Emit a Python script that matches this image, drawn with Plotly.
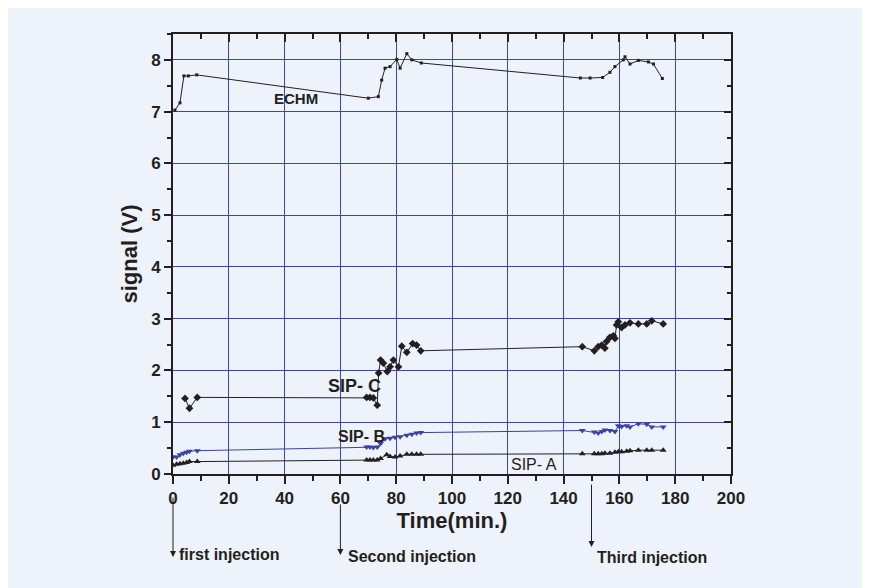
import plotly.graph_objects as go

# ---- data ----
echm_t = [0.7, 2.5, 3.9, 5.5, 8.5, 70, 73.6, 74.8, 76, 77.8, 80.2, 81.4, 83.8, 85.6, 89,
          146, 149.5, 154, 156.6, 158.4, 161.4, 162, 163.8, 166.8, 170.4, 172.2, 175.4]
echm_v = [7.03, 7.17, 7.69, 7.69, 7.71, 7.26, 7.29, 7.61, 7.84, 7.87, 8.01, 7.84, 8.12, 8.0, 7.94,
          7.65, 7.65, 7.66, 7.76, 7.87, 8.0, 8.06, 7.92, 7.99, 7.96, 7.92, 7.64]

sipc_t = [4.3, 5.9, 8.7, 69.4, 70.6, 71.8, 73.2, 73.7, 74.4, 75.4, 76.8, 77.8, 79, 80.8, 82,
          83.8, 85.9, 87.3, 88.8, 146.7, 151, 152.4, 153.7, 154.8, 155.4, 156.6, 157.8, 158.4,
          159, 159.6, 160.8, 162, 163.8, 166.8, 169.8, 171.6, 175.7]
sipc_v = [1.46, 1.27, 1.48, 1.48, 1.48, 1.47, 1.33, 1.95, 2.2, 2.14, 1.98, 2.07, 2.2, 2.07, 2.47,
          2.35, 2.52, 2.49, 2.38, 2.46, 2.38, 2.46, 2.49, 2.43, 2.56, 2.64, 2.67, 2.62,
          2.88, 2.94, 2.83, 2.88, 2.92, 2.90, 2.90, 2.96, 2.90]

sipb_t = [0, 1.3, 2.5, 3.7, 4.9, 5.9, 8.7, 69.4, 70.6, 71.8, 73.2, 74.4, 76, 77.8, 79.6, 81.4,
          83.8, 85.6, 87.3, 88.8, 146.7, 151, 152.4, 153.7, 154.8, 156.6, 158.4, 159.6, 160.8,
          162.6, 163.8, 166.8, 169.8, 171.6, 175.7]
sipb_v = [0.33, 0.33, 0.37, 0.40, 0.42, 0.44, 0.45, 0.52, 0.52, 0.51, 0.52, 0.59, 0.68, 0.69, 0.71, 0.72,
          0.75, 0.77, 0.79, 0.80, 0.84, 0.81, 0.79, 0.82, 0.85, 0.84, 0.82, 0.93, 0.92,
          0.93, 0.91, 0.97, 0.96, 0.91, 0.91]

sipa_t = [0, 1.3, 2.5, 3.7, 4.9, 5.9, 8.7, 69.4, 70.6, 71.8, 73.2, 74.4, 76.6, 77.8, 79.6, 81.4,
          83.8, 85.6, 87.3, 88.8, 146.7, 151, 152.4, 153.7, 154.8, 156.6, 158.4, 159.6, 160.8,
          162.6, 163.8, 166.8, 169.8, 171.6, 175.7]
sipa_v = [0.17, 0.19, 0.20, 0.21, 0.22, 0.24, 0.24, 0.27, 0.27, 0.27, 0.27, 0.30, 0.37, 0.34, 0.33, 0.35,
          0.38, 0.38, 0.38, 0.38, 0.39, 0.39, 0.39, 0.39, 0.40, 0.40, 0.42, 0.43, 0.43,
          0.44, 0.45, 0.46, 0.46, 0.46, 0.46]

x_ticks = [0, 20, 40, 60, 80, 100, 120, 140, 160, 180, 200]
y_ticks = [0, 1, 2, 3, 4, 5, 6, 7, 8]

injection_t = [0, 60, 150]
injection_labels = ["first injection", "Second injection", "Third injection"]

# ---- figure ----
BG = "#EEF2FA"
GRID = "#3A48A8"
INK = "#231F20"
FONT = "Liberation Sans"

fig = go.Figure()
fig.add_trace(go.Scatter(x=echm_t, y=echm_v, mode="lines+markers",
                         line=dict(color=INK, width=1), marker=dict(symbol="square", size=3, color=INK)))
fig.add_trace(go.Scatter(x=sipc_t, y=sipc_v, mode="lines+markers",
                         line=dict(color=INK, width=1), marker=dict(symbol="diamond", size=6, color=INK)))
fig.add_trace(go.Scatter(x=sipb_t, y=sipb_v, mode="lines+markers",
                         line=dict(color="#3A43A0", width=1),
                         marker=dict(symbol="triangle-down", size=6, color="#3A43A0")))
fig.add_trace(go.Scatter(x=sipa_t, y=sipa_v, mode="lines+markers",
                         line=dict(color=INK, width=1), marker=dict(symbol="triangle-up", size=6, color=INK)))

fig.update_layout(
    width=862, height=580,
    margin=dict(l=165, r=139, t=26, b=114),
    paper_bgcolor=BG, plot_bgcolor=BG,
    showlegend=False,
    font=dict(family=FONT, color=INK),
    xaxis=dict(range=[0, 200], tickvals=x_ticks, ticktext=[str(v) for v in x_ticks],
               showgrid=True, gridcolor=GRID, gridwidth=1, zeroline=False,
               showline=True, linecolor=INK, linewidth=2,
               ticks="outside", ticklen=8, tickwidth=2, tickcolor=INK,
               minor=dict(dtick=10, ticks="outside", ticklen=5, tickwidth=1.5, tickcolor=INK, showgrid=False),
               tickfont=dict(size=17, family=FONT, color=INK, weight="bold"),
               title=dict(text="Time(min.)", font=dict(size=22, family=FONT, color=INK, weight="bold"),
                          standoff=1)),
    yaxis=dict(range=[0, 8.5], tickvals=y_ticks, ticktext=[str(v) for v in y_ticks],
               showgrid=True, gridcolor=GRID, gridwidth=1, zeroline=False,
               showline=True, linecolor=INK, linewidth=2,
               ticks="outside", ticklen=7, tickwidth=2, tickcolor=INK,
               minor=dict(dtick=0.5, ticks="outside", ticklen=4, tickwidth=1.5, tickcolor=INK, showgrid=False),
               tickfont=dict(size=17, family=FONT, color=INK, weight="bold"),
               title=dict(text="signal (V)", font=dict(size=22, family=FONT, color=INK, weight="bold"),
                          standoff=7)),
    xaxis2=dict(overlaying="x", side="top", range=[0, 200], tickvals=x_ticks, showticklabels=False,
                showgrid=False, zeroline=False, showline=True, linecolor=INK, linewidth=2,
                ticks="inside", ticklen=8, tickwidth=2, tickcolor=INK,
                minor=dict(dtick=10, ticks="inside", ticklen=5, tickwidth=1.5, tickcolor=INK)),
    yaxis2=dict(overlaying="y", side="right", range=[0, 8.5], tickvals=y_ticks, showticklabels=False,
                showgrid=False, zeroline=False, showline=True, linecolor=INK, linewidth=2,
                ticks="inside", ticklen=7, tickwidth=2, tickcolor=INK,
                minor=dict(dtick=0.5, ticks="inside", ticklen=4, tickwidth=1.5, tickcolor=INK)),
)
# dummy trace to activate the mirrored axes
fig.add_trace(go.Scatter(x=[None], y=[None], xaxis="x2", yaxis="y2", showlegend=False, hoverinfo="skip"))

# series labels
labels = [("ECHM", 44, 7.25, True, 15), ("SIP- C", 65, 1.70, True, 18),
          ("SIP- B", 67.5, 0.72, True, 16), ("SIP- A", 129.5, 0.19, False, 16)]
for txt, lx, ly, bold, sz in labels:
    fig.add_annotation(x=lx, y=ly, text=txt, showarrow=False, xanchor="center", yanchor="middle",
                       font=dict(size=sz, family=FONT, color=INK, weight="bold" if bold else "normal"))

# injection arrows below the axis (head y in paper units, tail offset in pixels)
heads = [-83 / 440, -81 / 440, -73 / 440]
tails = [-61, -52, -64]
text_y = [-80 / 440, -82 / 440, -83 / 440]
shifts = [4, 6, 3]
for t, lab, h, tl, ty, sh in zip(injection_t, injection_labels, heads, tails, text_y, shifts):
    fig.add_annotation(x=t, xref="x", y=h, yref="paper", ax=0, ay=tl,
                       showarrow=True, arrowhead=2, arrowsize=1.2, arrowwidth=1, arrowcolor=INK, text="")
    fig.add_annotation(x=t, xref="x", y=ty, yref="paper", text=lab, showarrow=False,
                       xanchor="left", yanchor="middle", xshift=sh,
                       font=dict(size=16, family=FONT, color=INK, weight="bold"))

fig.write_html("out.html")
